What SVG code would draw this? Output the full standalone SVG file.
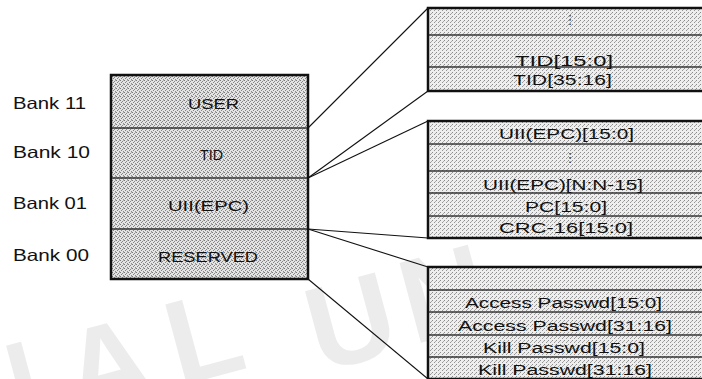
<svg xmlns="http://www.w3.org/2000/svg" width="702" height="379" viewBox="0 0 702 379">
  <defs>
    <pattern id="ditherMain" width="4" height="4" patternUnits="userSpaceOnUse">
      <rect width="4" height="4" fill="#e4e4e4"/>
      <rect x="0" y="0" width="1" height="1" fill="#7a7a7a"/>
      <rect x="2" y="1" width="1" height="1" fill="#888888"/>
      <rect x="1" y="2" width="1" height="1" fill="#828282"/>
      <rect x="3" y="3" width="1" height="1" fill="#8e8e8e"/>
      <rect x="3" y="0" width="1" height="1" fill="#b0b0b0"/>
    </pattern>
    <pattern id="ditherSide" width="4" height="4" patternUnits="userSpaceOnUse">
      <rect width="4" height="4" fill="#eeeeee"/>
      <rect x="0" y="0" width="1" height="1" fill="#8c8c8c"/>
      <rect x="2" y="2" width="1" height="1" fill="#959595"/>
      <rect x="3" y="1" width="1" height="1" fill="#a8a8a8"/>
    </pattern>
  </defs>
  <style>
    .frame { stroke: #111; stroke-width: 2.5; }
    .main { fill: url(#ditherMain); }
    .side { fill: url(#ditherSide); }
    .div { stroke: #333; stroke-width: 1.5; fill: none; }
    .conn { stroke: #111; stroke-width: 1.1; fill: none; }
    .bank { font-family: "Liberation Sans", Arial, sans-serif; font-size: 16.5px; fill: #111; }
    .lbl { font-family: "Liberation Sans", Arial, sans-serif; font-size: 15px; fill: #111; }
    .cell { font-family: "Liberation Sans", Arial, sans-serif; font-size: 15.5px; fill: #111; }
    .dots { font-family: "DejaVu Sans", sans-serif; font-size: 13px; fill: #333; text-anchor: middle; }
    .wm { font-family: "Liberation Sans", Arial, sans-serif; font-weight: bold; font-size: 120px; fill: #ececec; }
  </style>

  <rect width="702" height="379" fill="#ffffff"/>

  <g id="watermark">
    <text class="wm" x="-35" y="430" transform="rotate(-15 10 430)">N</text>
    <text class="wm" x="75" y="405" transform="rotate(-15 120 405)">A</text>
    <text class="wm" x="178" y="378" transform="rotate(-15 210 378)">L</text>
    <text class="wm" x="318" y="362" transform="rotate(-15 360 362)">U</text>
    <text class="wm" x="412" y="335" transform="rotate(-15 450 335)">N</text>
  </g>

  <g id="connectors">
    <line class="conn" x1="308" y1="128" x2="428" y2="8"/>
    <line class="conn" x1="308" y1="178" x2="428" y2="91"/>
    <line class="conn" x1="308" y1="178" x2="428" y2="121"/>
    <line class="conn" x1="308" y1="229" x2="428" y2="238"/>
    <line class="conn" x1="308" y1="229" x2="428" y2="267"/>
    <line class="conn" x1="308" y1="279" x2="428" y2="379"/>
  </g>

  <g id="bank-labels">
    <text class="bank" x="13" y="109" textLength="73" lengthAdjust="spacingAndGlyphs">Bank 11</text>
    <text class="bank" x="13" y="158" textLength="77" lengthAdjust="spacingAndGlyphs">Bank 10</text>
    <text class="bank" x="13" y="209" textLength="74" lengthAdjust="spacingAndGlyphs">Bank 01</text>
    <text class="bank" x="13" y="261" textLength="76" lengthAdjust="spacingAndGlyphs">Bank 00</text>
  </g>

  <g id="memory-banks">
    <rect class="main frame" x="111" y="75" width="197" height="204"/>
    <line class="div" x1="112" y1="128" x2="307" y2="128"/>
    <line class="div" x1="112" y1="178" x2="307" y2="178"/>
    <line class="div" x1="112" y1="229" x2="307" y2="229"/>
    <text class="lbl" x="188" y="109" textLength="51" lengthAdjust="spacingAndGlyphs">USER</text>
    <text class="lbl" x="200" y="160" textLength="23" lengthAdjust="spacingAndGlyphs">TID</text>
    <text class="lbl" x="168" y="211" textLength="81" lengthAdjust="spacingAndGlyphs">UII(EPC)</text>
    <text class="lbl" x="158" y="262" textLength="100" lengthAdjust="spacingAndGlyphs">RESERVED</text>
  </g>

  <g id="tid-bank">
    <rect class="side frame" x="428" y="8" width="285" height="83"/>
    <line class="div" x1="429" y1="35" x2="702" y2="35"/>
    <line class="div" x1="429" y1="67" x2="702" y2="67"/>
    <text class="dots" x="570" y="24">⋮</text>
    <text class="cell" x="515" y="66" textLength="98" lengthAdjust="spacingAndGlyphs">TID[15:0]</text>
    <text class="cell" x="513" y="85" textLength="99" lengthAdjust="spacingAndGlyphs">TID[35:16]</text>
  </g>

  <g id="uii-bank">
    <rect class="side frame" x="428" y="121" width="285" height="117"/>
    <line class="div" x1="429" y1="144" x2="702" y2="144"/>
    <line class="div" x1="429" y1="171" x2="702" y2="171"/>
    <line class="div" x1="429" y1="193" x2="702" y2="193"/>
    <line class="div" x1="429" y1="216" x2="702" y2="216"/>
    <text class="cell" x="499" y="139" textLength="135" lengthAdjust="spacingAndGlyphs">UII(EPC)[15:0]</text>
    <text class="dots" x="570" y="162">⋮</text>
    <text class="cell" x="483" y="190" textLength="160" lengthAdjust="spacingAndGlyphs">UII(EPC)[N:N-15]</text>
    <text class="cell" x="525" y="212" textLength="82" lengthAdjust="spacingAndGlyphs">PC[15:0]</text>
    <text class="cell" x="499" y="233" textLength="134" lengthAdjust="spacingAndGlyphs">CRC-16[15:0]</text>
  </g>

  <g id="reserved-bank">
    <rect class="side frame" x="428" y="267" width="285" height="112"/>
    <line class="div" x1="429" y1="290" x2="702" y2="290"/>
    <line class="div" x1="429" y1="312" x2="702" y2="312"/>
    <line class="div" x1="429" y1="335" x2="702" y2="335"/>
    <line class="div" x1="429" y1="357" x2="702" y2="357"/>
    <text class="cell" x="465" y="308" textLength="197" lengthAdjust="spacingAndGlyphs">Access Passwd[15:0]</text>
    <text class="cell" x="458" y="331" textLength="214" lengthAdjust="spacingAndGlyphs">Access Passwd[31:16]</text>
    <text class="cell" x="483" y="353" textLength="162" lengthAdjust="spacingAndGlyphs">Kill Passwd[15:0]</text>
    <text class="cell" x="478" y="375" textLength="174" lengthAdjust="spacingAndGlyphs">Kill Passwd[31:16]</text>
  </g>
</svg>
